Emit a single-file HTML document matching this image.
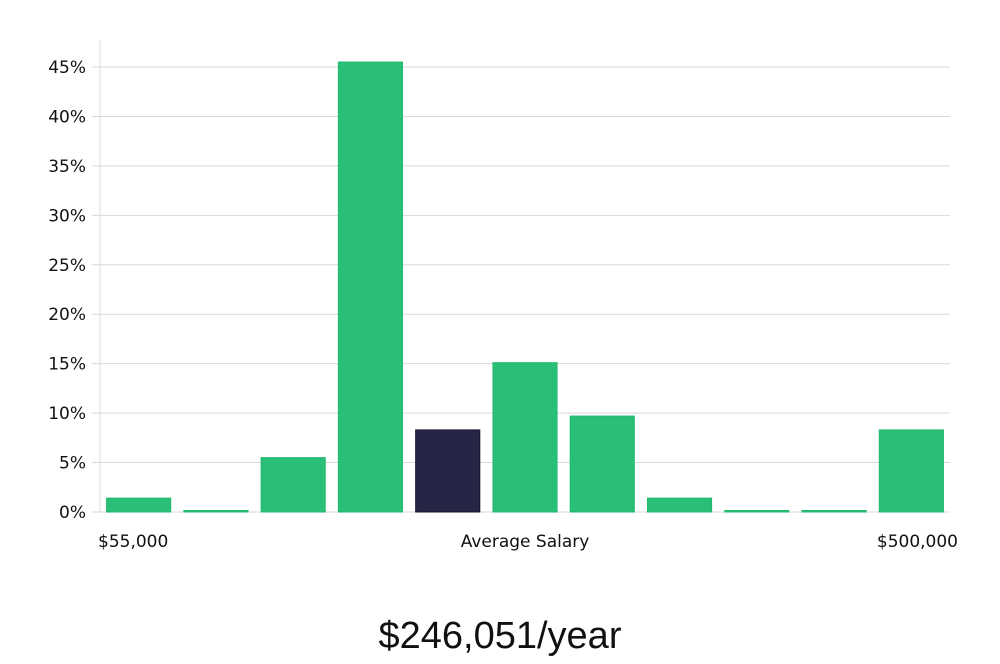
<!DOCTYPE html>
<html><head><meta charset="utf-8"><style>
body{margin:0;background:#fff;width:1000px;height:660px;overflow:hidden;font-family:"DejaVu Sans","Liberation Sans",sans-serif}
svg text{font-family:"DejaVu Sans","Liberation Sans",sans-serif}
</style></head><body>
<svg id="chart" width="1000" height="660" viewBox="0 0 1000 660"></svg>
<script>
const categories=["b1","b2","b3","b4","b5","b6","b7","b8","b9","b10","b11"];
const values=[1.4,0.1,5.5,45.5,8.3,15.1,9.7,1.4,0.1,0.1,8.3];
const highlight=[false,false,false,false,true,false,false,false,false,false,false];
const yTicks=[0,5,10,15,20,25,30,35,40,45];
const yTickLabels=["0%","5%","10%","15%","20%","25%","30%","35%","40%","45%"];
const NS="http://www.w3.org/2000/svg";
const svg=document.getElementById("chart");
const x0=100,x1=950,yBase=512,yTop=67;
const y=v=>yBase-(v/45)*(yBase-yTop);
const band=(x1-x0)/categories.length;
const x=i=>x0+i*band;
function mk(t,a){const e=document.createElementNS(NS,t);for(const k in a)e.setAttribute(k,a[k]);svg.appendChild(e);return e;}
const ax=mk("line",{x1:x0,y1:40,x2:x0,y2:yBase,stroke:"#ddd","stroke-width":1});


yTicks.forEach((t,i)=>{
  const g=mk("line",{x1:x0-8,y1:y(t),x2:x1,y2:y(t),stroke:"#d9d9d9","stroke-width":1});
  
  
  const l=mk("text",{x:x0-14,y:y(t)+6,"text-anchor":"end","font-size":"17",fill:"#111"});
  l.textContent=yTickLabels[i];
  
  
});
values.forEach((v,i)=>{
  const pad=band*0.085;
  const top=Math.min(y(v),yBase-1.5);
  const r=mk("rect",{x:x(i)+pad,y:top,width:band-2*pad,height:yBase-top,fill:highlight[i]?"#272546":"#2abf78",stroke:highlight[i]?"#15132e":"#22b86e","stroke-width":1});
  
  
});
function txt(s,xx,yy,anchor,size,name,fam){const t=mk("text",{x:xx,y:yy,"text-anchor":anchor,"font-size":size,fill:"#111"});if(fam)t.setAttribute("style","font-family:"+fam);t.textContent=s;

return t;}
txt("$55,000",98,547,"start","17","x-min-label");
txt("Average Salary",525,547,"middle","17","x-axis-title");
txt("$500,000",958,547,"end","17","x-max-label");
txt("$246,051/year",500,648,"middle","38","average-salary-value","'Liberation Sans',sans-serif").setAttribute("font-weight","300");
</script>
</body></html>
